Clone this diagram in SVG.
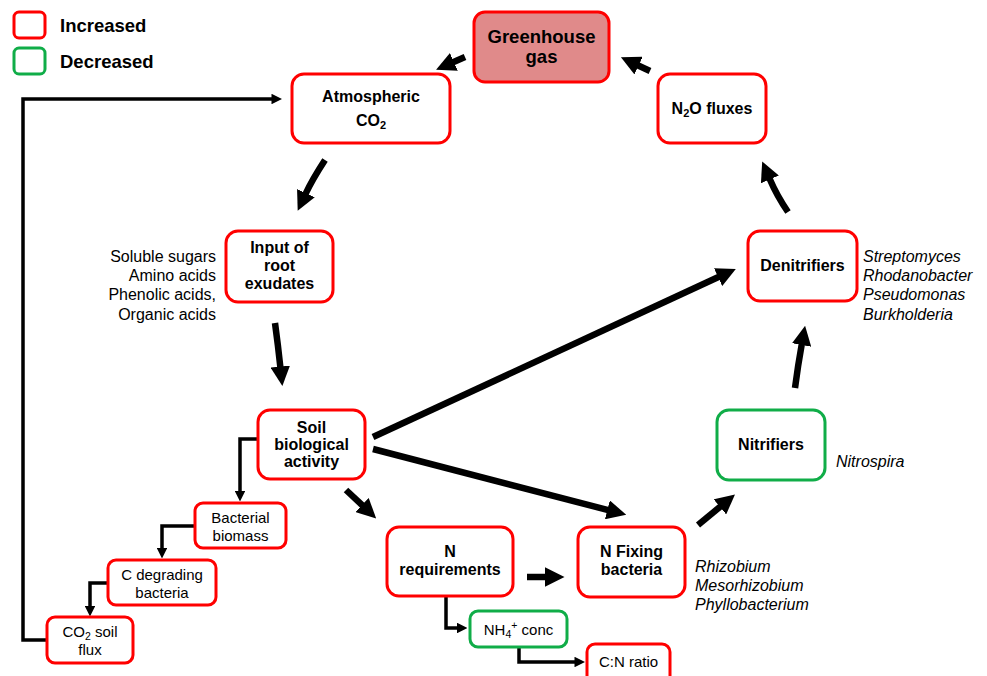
<svg xmlns="http://www.w3.org/2000/svg" width="987" height="676" viewBox="0 0 987 676">
<style>
text{font-family:"Liberation Sans",Arial,sans-serif;fill:#000}
.b{font-weight:bold;font-size:16px}
.r{font-size:15px}
.s{font-size:16px}
.i{font-size:16px;font-style:italic}
.red{fill:#fff;stroke:#ff0000;stroke-width:3}
.grn{fill:#fff;stroke:#10ad48;stroke-width:3}
.thk{fill:none;stroke:#000;stroke-width:6.5;marker-end:url(#ah)}
.thn{fill:none;stroke:#000;stroke-width:3.5;marker-end:url(#ah)}
</style>
<defs>
<marker id="ah" viewBox="0 0 10 10" refX="0.5" refY="5" markerWidth="3" markerHeight="3" markerUnits="strokeWidth" orient="auto">
<path d="M0,0 L10,5 L0,10 z" fill="#000"/>
</marker>
</defs>
<rect width="987" height="676" fill="#fff"/>
<g id="legend">
<rect x="14" y="12" width="31" height="26" rx="5" class="red"/>
<text x="60" y="32" class="b" style="font-size:18.5px">Increased</text>
<rect x="14" y="48" width="31" height="26" rx="5" class="grn"/>
<text x="60" y="68" class="b" style="font-size:18.5px">Decreased</text>
</g>
<g id="connectors">
<path class="thk" d="M465,57 L453,62.3"/>
<path class="thk" d="M650,71 L637.7,65.2"/>
<path class="thk" d="M788,212 Q777,196 769.5,178.5"/>
<path class="thk" d="M795,388 Q798,365 801.8,344"/>
<path class="thk" d="M698,525 L720.7,506.3"/>
<path class="thk" d="M527,577 L546,577"/>
<path class="thk" d="M346,490 L362.7,505.7"/>
<path class="thk" d="M373,437 L719,276.8"/>
<path class="thk" d="M373,449 L608.3,510.1"/>
<path class="thk" d="M325,160 Q312,180 305.5,194"/>
<path class="thk" d="M275,323 Q278,345 280.4,367.5"/>
<path class="thn" d="M258,439 L240,439 L240,491.5"/>
<path class="thn" d="M195,526 L162,526 L162,548.5"/>
<path class="thn" d="M108,583 L90,583 L90,606.5"/>
<path class="thn" d="M47,640 L23,640 L23,99 L272,99"/>
<path class="thn" d="M446,596 L446,628 L457.5,628"/>
<path class="thn" d="M519,647 L519,662 L575,662"/>
</g>
<g id="greenhouse">
<rect x="474" y="12" width="135" height="70" rx="11" fill="#e08a8a" stroke="#ff0000" stroke-width="3"/>
<text x="541.5" y="43" text-anchor="middle" class="b" style="font-size:18.5px">Greenhouse</text>
<text x="541.5" y="63" text-anchor="middle" class="b" style="font-size:18.5px">gas</text>
</g>
<g id="atmospheric">
<rect x="292" y="74" width="158" height="69" rx="12" class="red"/>
<text x="371" y="102" text-anchor="middle" class="b">Atmospheric</text>
<text x="371" y="126" text-anchor="middle" class="b">CO<tspan font-size="11" dy="3">2</tspan></text>
</g>
<g id="n2o">
<rect x="658" y="74" width="108" height="69" rx="12" class="red"/>
<text x="712" y="114" text-anchor="middle" class="b">N<tspan font-size="11" dy="3">2</tspan><tspan dy="-3">O fluxes</tspan></text>
</g>
<g id="input">
<rect x="226" y="231" width="107" height="71" rx="12" class="red"/>
<text x="279.5" y="253" text-anchor="middle" class="b">Input of</text>
<text x="279.5" y="271" text-anchor="middle" class="b">root</text>
<text x="279.5" y="289" text-anchor="middle" class="b">exudates</text>
</g>
<g id="exudates-list">
<text x="216" y="262" text-anchor="end" class="s">Soluble sugars</text>
<text x="216" y="281" text-anchor="end" class="s">Amino acids</text>
<text x="216" y="300" text-anchor="end" class="s">Phenolic acids,</text>
<text x="216" y="320" text-anchor="end" class="s">Organic acids</text>
</g>
<g id="denitrifiers">
<rect x="748" y="231" width="109" height="70" rx="12" class="red"/>
<text x="802.5" y="271" text-anchor="middle" class="b">Denitrifiers</text>
<text x="863" y="262" class="i">Streptomyces</text>
<text x="863" y="281" class="i">Rhodanobacter</text>
<text x="863" y="300" class="i">Pseudomonas</text>
<text x="863" y="320" class="i">Burkholderia</text>
</g>
<g id="soil">
<rect x="258" y="410" width="107" height="69" rx="12" class="red"/>
<text x="311.5" y="433" text-anchor="middle" class="b">Soil</text>
<text x="311.5" y="450" text-anchor="middle" class="b">biological</text>
<text x="311.5" y="467" text-anchor="middle" class="b">activity</text>
</g>
<g id="nitrifiers">
<rect x="717" y="410" width="108" height="70" rx="12" class="grn"/>
<text x="771" y="450" text-anchor="middle" class="b">Nitrifiers</text>
<text x="836" y="467" class="i">Nitrospira</text>
</g>
<g id="bacterial">
<rect x="195" y="503" width="91" height="45" rx="8" class="red"/>
<text x="240.5" y="523" text-anchor="middle" class="r">Bacterial</text>
<text x="240.5" y="541" text-anchor="middle" class="r">biomass</text>
</g>
<g id="cdegrading">
<rect x="108" y="560" width="108" height="45" rx="8" class="red"/>
<text x="162" y="580" text-anchor="middle" class="r">C degrading</text>
<text x="162" y="598" text-anchor="middle" class="r">bacteria</text>
</g>
<g id="co2soil">
<rect x="47" y="617" width="86" height="46" rx="8" class="red"/>
<text x="90" y="637" text-anchor="middle" class="r">CO<tspan font-size="10.5" dy="3">2</tspan><tspan dy="-3"> soil</tspan></text>
<text x="90" y="655" text-anchor="middle" class="r">flux</text>
</g>
<g id="nreq">
<rect x="387" y="527" width="126" height="69" rx="12" class="red"/>
<text x="450" y="557" text-anchor="middle" class="b">N</text>
<text x="450" y="575" text-anchor="middle" class="b">requirements</text>
</g>
<g id="nfixing">
<rect x="578" y="527" width="107" height="70" rx="12" class="red"/>
<text x="631.5" y="557" text-anchor="middle" class="b">N Fixing</text>
<text x="631.5" y="575" text-anchor="middle" class="b">bacteria</text>
<text x="695" y="572" class="i">Rhizobium</text>
<text x="695" y="591" class="i">Mesorhizobium</text>
<text x="695" y="610" class="i">Phyllobacterium</text>
</g>
<g id="nh4">
<rect x="470" y="611" width="97" height="36" rx="8" class="grn"/>
<text x="518.5" y="635" text-anchor="middle" class="r">NH<tspan font-size="10.5" dy="3">4</tspan><tspan font-size="10.5" dy="-9">+</tspan><tspan dy="6"> conc</tspan></text>
</g>
<g id="cnratio">
<rect x="587" y="644" width="83" height="40" rx="8" class="red"/>
<text x="628.5" y="667" text-anchor="middle" class="r">C:N ratio</text>
</g>
</svg>
